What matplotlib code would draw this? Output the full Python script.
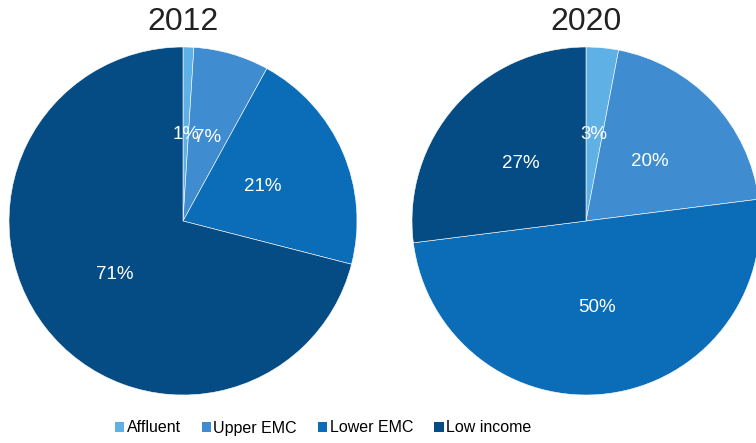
import matplotlib.pyplot as plt
from matplotlib.patches import Patch

plt.rcParams['font.family'] = ['Liberation Sans', 'DejaVu Sans']

segments = ['Affluent', 'Upper EMC', 'Lower EMC', 'Low income']
colors = ['#5eb0e5', '#3f8dd0', '#0b6cb7', '#064c84']
years = ['2012', '2020']
share_2012 = [1, 7, 21, 71]
share_2020 = [3, 20, 50, 27]

W, H = 756, 443
fig = plt.figure(figsize=(W / 100, H / 100), dpi=100)

# pie centres and radius in pixels
centres = [(183, 221), (586, 221)]
r = 174

for year, vals, (cx, cy) in zip(years, [share_2012, share_2020], centres):
    ax = fig.add_axes([(cx - r) / W, (H - cy - r) / H, 2 * r / W, 2 * r / H])
    wedges, texts, autotexts = ax.pie(vals, colors=colors, startangle=90, counterclock=False,
                                      autopct='%d%%', pctdistance=0.5, radius=1,
                                      wedgeprops=dict(linewidth=0.4, edgecolor='white'),
                                      textprops=dict(color='white', fontsize=13.5))
    ax.set_xlim(-1, 1)
    ax.set_ylim(-1, 1)
    fig.text(cx / W, 1 - 22 / H, year, ha='center', va='center', fontsize=23, color='#222222')

handles = [Patch(facecolor=c, edgecolor='none') for c in colors]
fig.legend(handles, segments, loc='center', bbox_to_anchor=(323 / W, 1 - 428 / H), ncol=4,
           frameon=False, fontsize=11.5, handlelength=0.6, handleheight=0.6,
           handletextpad=0.15, columnspacing=1.3)

fig.savefig('out.png', dpi=100)
